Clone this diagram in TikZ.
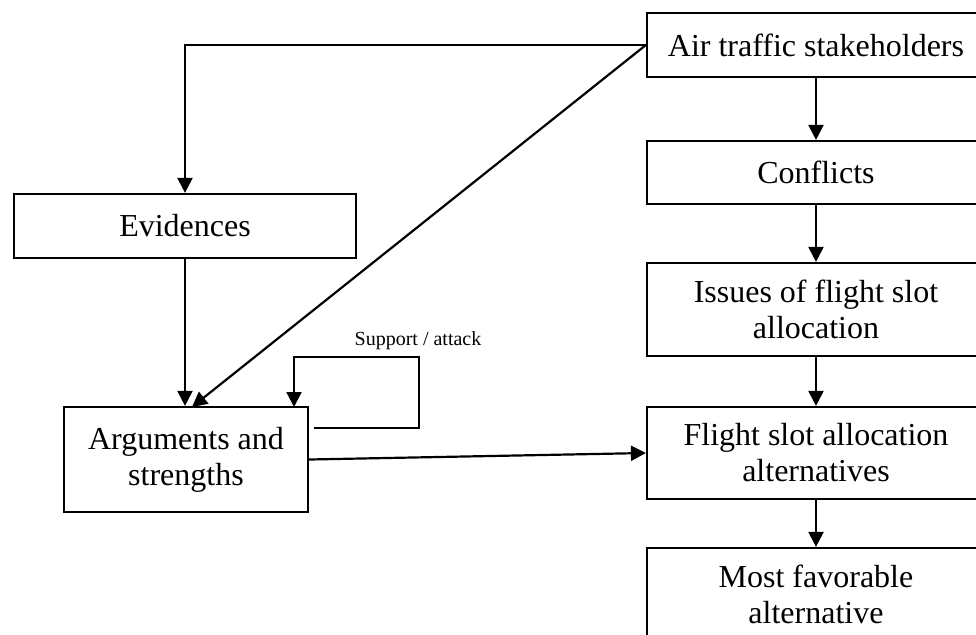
\documentclass[tikz,border=0pt]{standalone}
\usepackage{fontspec}
\setmainfont{Liberation Serif}
\usetikzlibrary{arrows.meta}
\begin{document}
\begin{tikzpicture}[x=0.5pt,y=-0.5pt,
  box/.style={draw,line width=1.1pt,align=center,inner sep=0pt,
    font=\fontsize{16}{18}\selectfont},
  conn/.style={line width=1.1pt},
  arr/.style={conn,-{Triangle[length=7.5pt,width=7.5pt]}},
  lbl/.style={font=\fontsize{10}{12}\selectfont,inner sep=0pt}]
\useasboundingbox (0,0) rectangle (976,634);
\clip (0,0) rectangle (976,634);
% right column
\node[box,minimum width=169pt,minimum height=32pt] (ats) at (816,45) {Air traffic stakeholders};
\node[box,minimum width=169pt,minimum height=31.5pt] (conf) at (816,172.5) {Conflicts};
\node[box,minimum width=169pt,minimum height=46.5pt] (iss) at (816,309.5) {Issues of flight slot\\allocation};
\node[box,minimum width=169pt,minimum height=46pt] (alt) at (816,453) {Flight slot allocation\\alternatives};
\node[box,minimum width=169pt,minimum height=46pt] (fav) at (816,594) {Most favorable\\alternative};
% left column
\node[box,minimum width=171pt,minimum height=32pt] (evid) at (185,226) {Evidences};
\node[box,minimum width=122pt,minimum height=52.5pt] (args) at (186,459.5) {Arguments and\\strengths};
% label
\node[lbl] (sa) at (418,341) {Support / attack};
% loop coordinates
\coordinate (l1) at (314,428);
\coordinate (l2) at (419,428);
\coordinate (l3) at (419,357);
\coordinate (l4) at (294,357);
\coordinate (l5) at (294,407);
\coordinate (diagend) at (192,407);
% connectors
\draw[arr] (ats.south) -- (conf.north);
\draw[arr] (conf.south) -- (iss.north);
\draw[arr] (iss.south) -- (alt.north);
\draw[arr] (alt.south) -- (fav.north);
\draw[arr] (ats.west) -| (evid.north);
\draw[arr] (ats.west) -- (diagend);
\draw[arr] (evid.south) -- (evid.south |- args.north);
\draw[arr] (l1) -- (l2) -- (l3) -- (l4) -- (l5);
\draw[arr] (args.east) -- (alt.west);
\end{tikzpicture}
\end{document}
